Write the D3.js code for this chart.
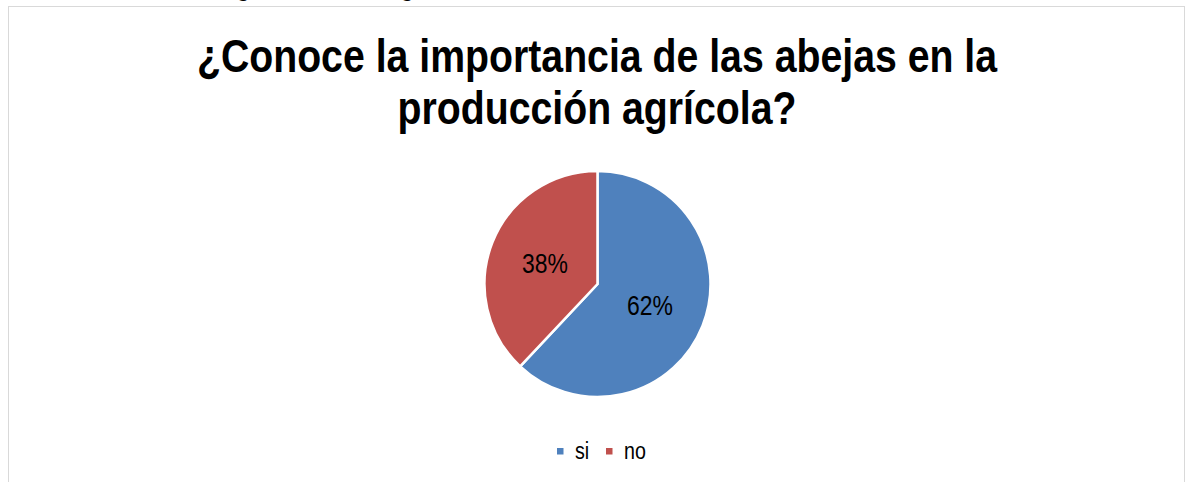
<!DOCTYPE html>
<html>
<head>
<meta charset="utf-8">
<script src="https://cdn.jsdelivr.net/npm/d3@7/dist/d3.min.js"></script>
<style>
  html, body { margin: 0; padding: 0; background: #ffffff; }
  svg { display: block; }
  text { font-family: "Liberation Sans", Arial, sans-serif; }
</style>
</head>
<body>
<svg id="chart" width="1186" height="482"></svg>
<script>
// Survey answers (percent of respondents)
const categories = ["si", "no"];
const values = [62, 38];
const colors = ["#4F81BD", "#C0504D"];
const titleLines = ["¿Conoce la importancia de las abejas en la", "producción agrícola?"];
const captionParts = ["Figura 10.", "Diagnóstico del entorno"];

const svg = d3.select("#chart");
const W = 1186, H = 482;
// Condensed look: the sans face squeezed horizontally
const NARROW = 0.82;

// Caption of the figure above the chart frame (mostly outside the page)
const cap = svg.append("text")
  .attr("y", -3)
  .style("font-weight", "bold")
  .style("font-size", "21px")
  .attr("fill", "#000");
const t1 = cap.append("tspan").text(captionParts[0]);
const t2 = cap.append("tspan").text(captionParts[1]);
const gOff1 = t1.node().getSubStringLength(0, captionParts[0].indexOf("g"));
t1.attr("x", 237 - gOff1);
const gOff2 = t2.node().getSubStringLength(0, captionParts[1].indexOf("g"));
t2.attr("x", 401 - gOff2);

// Chart frame
svg.append("rect")
  .attr("x", 8.5).attr("y", 6.5)
  .attr("width", 1176).attr("height", H)
  .attr("fill", "#ffffff")
  .attr("stroke", "#d9d9d9")
  .attr("stroke-width", 1);

// Title, two centred lines
const titleY = [72, 124];
titleLines.forEach((line, i) => {
  svg.append("g")
    .attr("transform", `translate(597,${titleY[i]}) scale(0.835,1)`)
    .append("text")
    .attr("text-anchor", "middle")
    .style("font-weight", "bold")
    .style("font-size", "47px")
    .attr("fill", "#000")
    .text(line);
});

// Pie
const cx = 597.5, cy = 284, r = 113;
const pie = d3.pie().sort(null).value(d => d.value);
const arcs = pie(categories.map((c, i) => ({ key: c, value: values[i], color: colors[i] })));
const arc = d3.arc().innerRadius(0).outerRadius(r);

const g = svg.append("g").attr("transform", `translate(${cx},${cy})`);
g.selectAll("path.slice")
  .data(arcs)
  .join("path")
  .attr("class", "slice")
  .attr("d", arc)
  .attr("fill", d => d.data.color)
  .attr("stroke", "#ffffff")
  .attr("stroke-width", 2.5)
  .attr("stroke-linejoin", "miter");

const total = d3.sum(values);
g.selectAll("g.lbl")
  .data(arcs)
  .join("g")
  .attr("class", "lbl")
  .attr("transform", d => `translate(${arc.centroid(d)}) scale(${NARROW},1)`)
  .append("text")
  .attr("text-anchor", "middle")
  .attr("dy", "0.36em")
  .style("font-size", "28px")
  .attr("fill", "#000")
  .text(d => Math.round(d.data.value / total * 100) + "%");

// Legend
const legendItems = [
  { key: categories[0], color: colors[0], x: 557 },
  { key: categories[1], color: colors[1], x: 606 }
];
const lg = svg.append("g");
legendItems.forEach(it => {
  lg.append("rect")
    .attr("x", it.x).attr("y", 448)
    .attr("width", 6.5).attr("height", 6.5)
    .attr("fill", it.color);
  lg.append("g")
    .attr("transform", `translate(${it.x + 18},459) scale(${NARROW},1)`)
    .append("text")
    .style("font-size", "24px")
    .attr("fill", "#000")
    .text(it.key);
});
</script>
</body>
</html>
